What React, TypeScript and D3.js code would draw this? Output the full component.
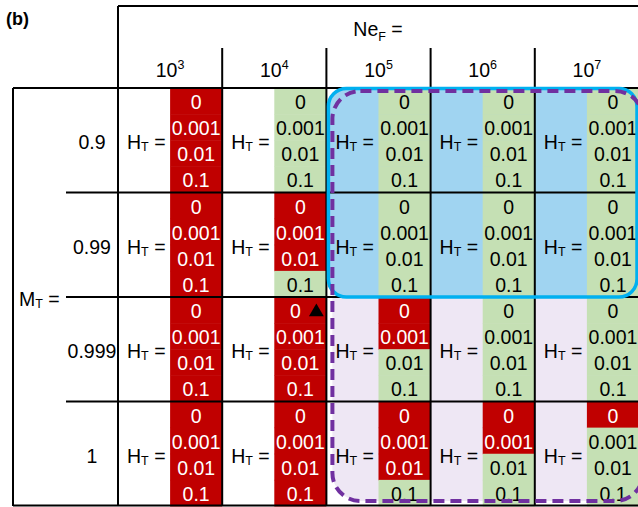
import React from "react";
import * as d3 from "d3";

// Ne_F exponents (columns), M_T values (rows), H_T values (sub-rows)
const neExponents = ["3", "4", "5", "6", "7"];
const mValues = ["0.9", "0.99", "0.999", "1"];
const htValues = ["0", "0.001", "0.01", "0.1"];

// number of red (failed) H_T entries, counted from the top, per Ne_F column
const redM09 = [4, 0, 0, 0, 0];
const redM099 = [4, 3, 0, 0, 0];
const redM0999 = [4, 4, 2, 0, 0];
const redM1 = [4, 4, 3, 2, 1];
const redCounts = [redM09, redM099, redM0999, redM1];

// the ▲ marker
const markerM = "0.999";
const markerNe = "4";
const markerHt = "0";

// highlighted regions
const blueRows = ["0.9", "0.99"];
const purpleRows = ["0.9", "1"];
const boxCols = ["5", "7"];

const RED = "#C00000";
const GREEN = "#C5E0B4";
const FONT = "'Liberation Sans', Arial, sans-serif";
const FS = 19.5;

const W = 638;
const H = 507;

export default function App() {
  const colX = d3.scaleBand<string>().domain(neExponents).range([118, 639]);
  const rowY = d3.scaleBand<string>().domain(mValues).range([88, 506]);
  const subY = d3.scaleBand<string>().domain(htValues).range([0, rowY.bandwidth()]);
  const bw = colX.bandwidth();
  const bh = rowY.bandwidth();
  const triangle = d3.symbol(d3.symbolTriangle, 95)()!;

  // rounded highlight boxes
  const bx0 = colX(boxCols[0])! + 2;
  const blue = {
    x: bx0,
    y: rowY(blueRows[0])! + 0.5,
    w: colX(boxCols[1])! + bw - 2 - bx0,
    h: rowY(blueRows[1])! + bh - rowY(blueRows[0])! - 0.5,
  };
  const purple = {
    x: bx0 + 4,
    y: rowY(purpleRows[0])! + 3,
    w: colX(boxCols[1])! + bw + 4 - (bx0 + 4),
    h: rowY(purpleRows[1])! + bh - 5 - (rowY(purpleRows[0])! + 3),
  };

  const lines: string[] = [];
  lines.push(`M118,6H${W}`);
  lines.push(`M118,6V${H - 1}`);
  neExponents.slice(1).forEach((c) => lines.push(`M${colX(c)},48V${H - 1}`));
  lines.push(`M13,88H${W}`);
  lines.push(`M13,88V${H - 1}`);
  mValues.slice(1).forEach((m) => lines.push(`M66,${rowY(m)}H${W}`));
  lines.push(`M13,${H - 1.5}H${W}`);

  return (
    <svg
      width={W}
      height={H}
      style={{ position: "absolute", left: 0, top: 0, background: "#fff" }}
      fontFamily={FONT}
    >
      {/* region fills */}
      <rect x={purple.x} y={purple.y} width={purple.w} height={purple.h} rx={28} fill="#EEE7F4" />
      <rect x={blue.x} y={blue.y} width={blue.w} height={blue.h} rx={18} fill="#A0D4F1" />

      {/* cells */}
      {mValues.map((m, ri) =>
        neExponents.map((ne, ci) => {
          const x0 = colX(ne)!;
          const y0 = rowY(m)!;
          const nRed = redCounts[ri][ci];
          return (
            <g key={m + ne}>
              {htValues.map((ht, hi) => {
                const red = hi < nRed;
                const cx = x0 + bw * 0.75;
                const cy = y0 + subY(ht)! + subY.bandwidth() / 2;
                const marked = m === markerM && ne === markerNe && ht === markerHt;
                return (
                  <g key={ht}>
                    <rect
                      x={x0 + bw / 2}
                      y={y0 + subY(ht)!}
                      width={bw / 2}
                      height={subY.bandwidth() + 0.5}
                      fill={red ? RED : GREEN}
                    />
                    <text
                      x={marked ? cx - 5 : cx}
                      y={cy + 1}
                      textAnchor="middle"
                      dominantBaseline="central"
                      fontSize={FS}
                      fill={red ? "#fff" : "#000"}
                    >
                      {ht}
                    </text>
                    {marked && <path d={triangle} transform={`translate(${cx + 16},${cy + 2})`} fill="#000" />}
                  </g>
                );
              })}
              <text x={x0 + 9} y={y0 + bh / 2 + 2} dominantBaseline="central" fontSize={FS} fill="#000">
                H
                <tspan fontSize={12.5} dy={5}>T</tspan>
                <tspan dy={-5}> =</tspan>
              </text>
            </g>
          );
        })
      )}

      {/* grid */}
      <path d={lines.join("")} stroke="#000" strokeWidth={2} fill="none" />

      {/* outlines */}
      <rect x={blue.x} y={blue.y} width={blue.w} height={blue.h} rx={18} fill="none" stroke="#00B0F0" strokeWidth={3.5} />
      <rect
        x={purple.x}
        y={purple.y}
        width={purple.w}
        height={purple.h}
        rx={28}
        fill="none"
        stroke="#7030A0"
        strokeWidth={4}
        strokeDasharray="11 6"
      />

      {/* header labels */}
      <text x={6} y={25} fontSize={18} fontWeight="bold">(b)</text>
      <text x={(118 + W) / 2} y={36} textAnchor="middle" fontSize={FS}>
        Ne
        <tspan fontSize={12.5} dy={5}>F</tspan>
        <tspan dy={-5}> =</tspan>
      </text>
      {neExponents.map((ne) => (
        <text key={ne} x={colX(ne)! + bw / 2} y={77} textAnchor="middle" fontSize={FS}>
          10
          <tspan fontSize={12.5} dy={-8}>{ne}</tspan>
        </text>
      ))}
      {mValues.map((m) => (
        <text key={m} x={92} y={rowY(m)! + bh / 2 + 2} textAnchor="middle" dominantBaseline="central" fontSize={FS}>
          {m}
        </text>
      ))}
      <text x={19} y={rowY(mValues[2])! + 2} dominantBaseline="central" fontSize={FS}>
        M
        <tspan fontSize={12.5} dy={5}>T</tspan>
        <tspan dy={-5}> =</tspan>
      </text>
    </svg>
  );
}
